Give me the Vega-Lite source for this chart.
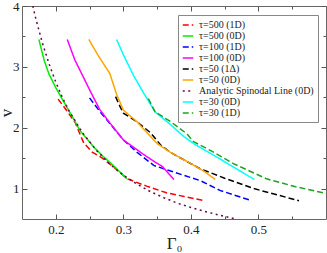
{
  "$schema": "https://vega.github.io/schema/vega-lite/v6.json",
  "width": 304,
  "height": 213,
  "autosize": "none",
  "padding": {"left": 22, "top": 6, "right": 1, "bottom": 34},
  "background": "white",
  "config": {
    "view": {"stroke": null},
    "font": "Liberation Serif",
    "axis": {
      "labelFont": "Liberation Serif",
      "titleFont": "Liberation Serif",
      "labelFontSize": 13,
      "titleFontSize": 17,
      "labelFontWeight": "normal",
      "titleFontWeight": "normal",
      "labelColor": "#222",
      "titleColor": "#222",
      "domainColor": "#666",
      "tickColor": "#555",
      "grid": false
    },
    "legend": {
      "labelFont": "Liberation Serif",
      "labelFontSize": 10
    }
  },
  "resolve": {"axis": {"x": "independent", "y": "independent"}},
  "data": {
    "values": [
      {"s": "τ=500 (1D)", "x": 0.2035, "y": 2.47},
      {"s": "τ=500 (1D)", "x": 0.215, "y": 2.3},
      {"s": "τ=500 (1D)", "x": 0.229, "y": 2.08},
      {"s": "τ=500 (1D)", "x": 0.237, "y": 1.86},
      {"s": "τ=500 (1D)", "x": 0.2415, "y": 1.75},
      {"s": "τ=500 (1D)", "x": 0.254, "y": 1.6},
      {"s": "τ=500 (1D)", "x": 0.269, "y": 1.5},
      {"s": "τ=500 (1D)", "x": 0.285, "y": 1.36},
      {"s": "τ=500 (1D)", "x": 0.306, "y": 1.16},
      {"s": "τ=500 (1D)", "x": 0.3345, "y": 1.04},
      {"s": "τ=500 (1D)", "x": 0.364, "y": 0.93},
      {"s": "τ=500 (1D)", "x": 0.39, "y": 0.87},
      {"s": "τ=500 (1D)", "x": 0.42, "y": 0.8},

      {"s": "τ=500 (0D)", "x": 0.175, "y": 3.45},
      {"s": "τ=500 (0D)", "x": 0.183, "y": 3.1},
      {"s": "τ=500 (0D)", "x": 0.19, "y": 2.88},
      {"s": "τ=500 (0D)", "x": 0.2, "y": 2.66},
      {"s": "τ=500 (0D)", "x": 0.21, "y": 2.46},
      {"s": "τ=500 (0D)", "x": 0.222, "y": 2.23},
      {"s": "τ=500 (0D)", "x": 0.236, "y": 1.95},
      {"s": "τ=500 (0D)", "x": 0.2565, "y": 1.68},
      {"s": "τ=500 (0D)", "x": 0.27, "y": 1.53},
      {"s": "τ=500 (0D)", "x": 0.288, "y": 1.35},
      {"s": "τ=500 (0D)", "x": 0.305, "y": 1.16},

      {"s": "τ=100 (1D)", "x": 0.25, "y": 2.49},
      {"s": "τ=100 (1D)", "x": 0.265, "y": 2.27},
      {"s": "τ=100 (1D)", "x": 0.28, "y": 2.07},
      {"s": "τ=100 (1D)", "x": 0.3, "y": 1.8},
      {"s": "τ=100 (1D)", "x": 0.32, "y": 1.6},
      {"s": "τ=100 (1D)", "x": 0.345, "y": 1.38},
      {"s": "τ=100 (1D)", "x": 0.375, "y": 1.27},
      {"s": "τ=100 (1D)", "x": 0.414, "y": 1.13},
      {"s": "τ=100 (1D)", "x": 0.443, "y": 0.97},
      {"s": "τ=100 (1D)", "x": 0.49, "y": 0.8},

      {"s": "τ=100 (0D)", "x": 0.217, "y": 3.45},
      {"s": "τ=100 (0D)", "x": 0.228, "y": 3.12},
      {"s": "τ=100 (0D)", "x": 0.24, "y": 2.85},
      {"s": "τ=100 (0D)", "x": 0.252, "y": 2.58},
      {"s": "τ=100 (0D)", "x": 0.265, "y": 2.3},
      {"s": "τ=100 (0D)", "x": 0.28, "y": 2.08},
      {"s": "τ=100 (0D)", "x": 0.3, "y": 1.8},
      {"s": "τ=100 (0D)", "x": 0.315, "y": 1.68},
      {"s": "τ=100 (0D)", "x": 0.33, "y": 1.56},
      {"s": "τ=100 (0D)", "x": 0.345, "y": 1.45},
      {"s": "τ=100 (0D)", "x": 0.358, "y": 1.36},
      {"s": "τ=100 (0D)", "x": 0.375, "y": 1.15},

      {"s": "τ=50 (1Δ)", "x": 0.2885, "y": 2.51},
      {"s": "τ=50 (1Δ)", "x": 0.295, "y": 2.35},
      {"s": "τ=50 (1Δ)", "x": 0.3, "y": 2.24},
      {"s": "τ=50 (1Δ)", "x": 0.32, "y": 2.1},
      {"s": "τ=50 (1Δ)", "x": 0.34, "y": 1.92},
      {"s": "τ=50 (1Δ)", "x": 0.355, "y": 1.72},
      {"s": "τ=50 (1Δ)", "x": 0.369, "y": 1.6},
      {"s": "τ=50 (1Δ)", "x": 0.39, "y": 1.47},
      {"s": "τ=50 (1Δ)", "x": 0.413, "y": 1.33},
      {"s": "τ=50 (1Δ)", "x": 0.45, "y": 1.17},
      {"s": "τ=50 (1Δ)", "x": 0.493, "y": 1.0},
      {"s": "τ=50 (1Δ)", "x": 0.53, "y": 0.89},
      {"s": "τ=50 (1Δ)", "x": 0.56, "y": 0.8},

      {"s": "τ=50 (0D)", "x": 0.249, "y": 3.45},
      {"s": "τ=50 (0D)", "x": 0.262, "y": 3.2},
      {"s": "τ=50 (0D)", "x": 0.28, "y": 2.89},
      {"s": "τ=50 (0D)", "x": 0.29, "y": 2.55},
      {"s": "τ=50 (0D)", "x": 0.3, "y": 2.29},
      {"s": "τ=50 (0D)", "x": 0.32, "y": 2.1},
      {"s": "τ=50 (0D)", "x": 0.335, "y": 1.92},
      {"s": "τ=50 (0D)", "x": 0.35, "y": 1.74},
      {"s": "τ=50 (0D)", "x": 0.369, "y": 1.6},
      {"s": "τ=50 (0D)", "x": 0.4, "y": 1.41},
      {"s": "τ=50 (0D)", "x": 0.42, "y": 1.28},
      {"s": "τ=50 (0D)", "x": 0.436, "y": 1.15},

      {"s": "Analytic Spinodal Line (0D)", "x": 0.166, "y": 4.0},
      {"s": "Analytic Spinodal Line (0D)", "x": 0.17, "y": 3.81},
      {"s": "Analytic Spinodal Line (0D)", "x": 0.18, "y": 3.4},
      {"s": "Analytic Spinodal Line (0D)", "x": 0.19, "y": 3.05},
      {"s": "Analytic Spinodal Line (0D)", "x": 0.2, "y": 2.75},
      {"s": "Analytic Spinodal Line (0D)", "x": 0.21, "y": 2.49},
      {"s": "Analytic Spinodal Line (0D)", "x": 0.22, "y": 2.27},
      {"s": "Analytic Spinodal Line (0D)", "x": 0.24, "y": 1.91},
      {"s": "Analytic Spinodal Line (0D)", "x": 0.26, "y": 1.63},
      {"s": "Analytic Spinodal Line (0D)", "x": 0.28, "y": 1.4},
      {"s": "Analytic Spinodal Line (0D)", "x": 0.3, "y": 1.22},
      {"s": "Analytic Spinodal Line (0D)", "x": 0.32, "y": 1.075},
      {"s": "Analytic Spinodal Line (0D)", "x": 0.34, "y": 0.95},
      {"s": "Analytic Spinodal Line (0D)", "x": 0.36, "y": 0.85},
      {"s": "Analytic Spinodal Line (0D)", "x": 0.38, "y": 0.76},
      {"s": "Analytic Spinodal Line (0D)", "x": 0.4, "y": 0.69},
      {"s": "Analytic Spinodal Line (0D)", "x": 0.42, "y": 0.625},
      {"s": "Analytic Spinodal Line (0D)", "x": 0.44, "y": 0.57},
      {"s": "Analytic Spinodal Line (0D)", "x": 0.467, "y": 0.5},

      {"s": "τ=30 (0D)", "x": 0.29, "y": 3.45},
      {"s": "τ=30 (0D)", "x": 0.3, "y": 3.2},
      {"s": "τ=30 (0D)", "x": 0.315, "y": 2.86},
      {"s": "τ=30 (0D)", "x": 0.33, "y": 2.57},
      {"s": "τ=30 (0D)", "x": 0.347, "y": 2.26},
      {"s": "τ=30 (0D)", "x": 0.37, "y": 2.05},
      {"s": "τ=30 (0D)", "x": 0.39, "y": 1.85},
      {"s": "τ=30 (0D)", "x": 0.404, "y": 1.74},
      {"s": "τ=30 (0D)", "x": 0.438, "y": 1.52},
      {"s": "τ=30 (0D)", "x": 0.465, "y": 1.34},
      {"s": "τ=30 (0D)", "x": 0.494, "y": 1.15},

      {"s": "τ=30 (1D)", "x": 0.337, "y": 2.48},
      {"s": "τ=30 (1D)", "x": 0.347, "y": 2.26},
      {"s": "τ=30 (1D)", "x": 0.37, "y": 2.1},
      {"s": "τ=30 (1D)", "x": 0.394, "y": 1.9},
      {"s": "τ=30 (1D)", "x": 0.404, "y": 1.77},
      {"s": "τ=30 (1D)", "x": 0.43, "y": 1.62},
      {"s": "τ=30 (1D)", "x": 0.463, "y": 1.41},
      {"s": "τ=30 (1D)", "x": 0.512, "y": 1.16},
      {"s": "τ=30 (1D)", "x": 0.555, "y": 1.03},
      {"s": "τ=30 (1D)", "x": 0.6, "y": 0.92}
    ]
  },
  "layer": [
    {
      "mark": {"type": "line", "strokeWidth": 1.5, "clip": true},
      "encoding": {
        "x": {
          "field": "x", "type": "quantitative",
          "scale": {"domain": [0.15, 0.6], "nice": false, "zero": false},
          "axis": {
            "title": "Γ₀",
            "values": [0.2, 0.25, 0.3, 0.35, 0.4, 0.45, 0.5, 0.55],
            "labelExpr": "abs(datum.value*10 - round(datum.value*10)) < 0.001 ? format(datum.value, '.1f') : ''",
            "tickSize": {"condition": {"test": "abs(datum.value*10 - round(datum.value*10)) < 0.001", "value": -5}, "value": -3},
            "labelPadding": 9,
            "titlePadding": -1,
            "labelFlush": false
          }
        },
        "y": {
          "field": "y", "type": "quantitative",
          "scale": {"domain": [0.5, 4], "nice": false, "zero": false},
          "axis": {
            "title": "v",
            "values": [1, 1.5, 2, 2.5, 3, 3.5, 4],
            "labelExpr": "datum.value % 1 == 0 ? format(datum.value, 'd') : ''",
            "tickSize": {"condition": {"test": "datum.value % 1 == 0", "value": -5}, "value": -3},
            "labelPadding": 8,
            "titlePadding": 0,
            "titleX": -16,
            "titleBaseline": "middle",
            "labelFlush": false
          }
        },
        "color": {
          "field": "s", "type": "nominal",
          "scale": {
            "domain": ["τ=500 (1D)", "τ=500 (0D)", "τ=100 (1D)", "τ=100 (0D)", "τ=50 (1Δ)", "τ=50 (0D)", "Analytic Spinodal Line (0D)", "τ=30 (0D)", "τ=30 (1D)"],
            "range": ["#ff0000", "#00ee00", "#0000ff", "#ff00ff", "#000000", "#ffa500", "#670748", "#00ffff", "#22a022"]
          },
          "legend": {
            "title": null,
            "orient": "none",
            "legendX": 156,
            "legendY": 9,
            "symbolType": "stroke",
            "symbolSize": 110,
            "symbolStrokeWidth": 1.5,
            "rowPadding": 0,
            "labelOffset": 5,
            "padding": 4,
            "fillColor": "white",
            "strokeColor": "#888",
            "labelLimit": 300,
            "labelColor": "#222"
          }
        },
        "strokeDash": {
          "field": "s", "type": "nominal",
          "scale": {
            "domain": ["τ=500 (1D)", "τ=500 (0D)", "τ=100 (1D)", "τ=100 (0D)", "τ=50 (1Δ)", "τ=50 (0D)", "Analytic Spinodal Line (0D)", "τ=30 (0D)", "τ=30 (1D)"],
            "range": [[6, 3], [1, 0], [6, 3], [1, 0], [6, 3], [1, 0], [2, 3.5], [1, 0], [6, 3]]
          },
          "legend": null
        },
        "detail": {"field": "s"}
      }
    },
    {
      "mark": {"type": "point", "opacity": 0},
      "encoding": {
        "x": {
          "field": "x", "type": "quantitative",
          "axis": {
            "orient": "top", "title": null, "labels": false, "domainColor": "#666",
            "values": [0.2, 0.25, 0.3, 0.35, 0.4, 0.45, 0.5, 0.55],
            "tickSize": {"condition": {"test": "abs(datum.value*10 - round(datum.value*10)) < 0.001", "value": -5}, "value": -3}
          }
        },
        "y": {
          "field": "y", "type": "quantitative",
          "axis": {
            "orient": "right", "title": null, "labels": false, "domainColor": "#666",
            "values": [1, 1.5, 2, 2.5, 3, 3.5, 4],
            "tickSize": {"condition": {"test": "datum.value % 1 == 0", "value": -5}, "value": -3}
          }
        }
      }
    }
  ]
}
